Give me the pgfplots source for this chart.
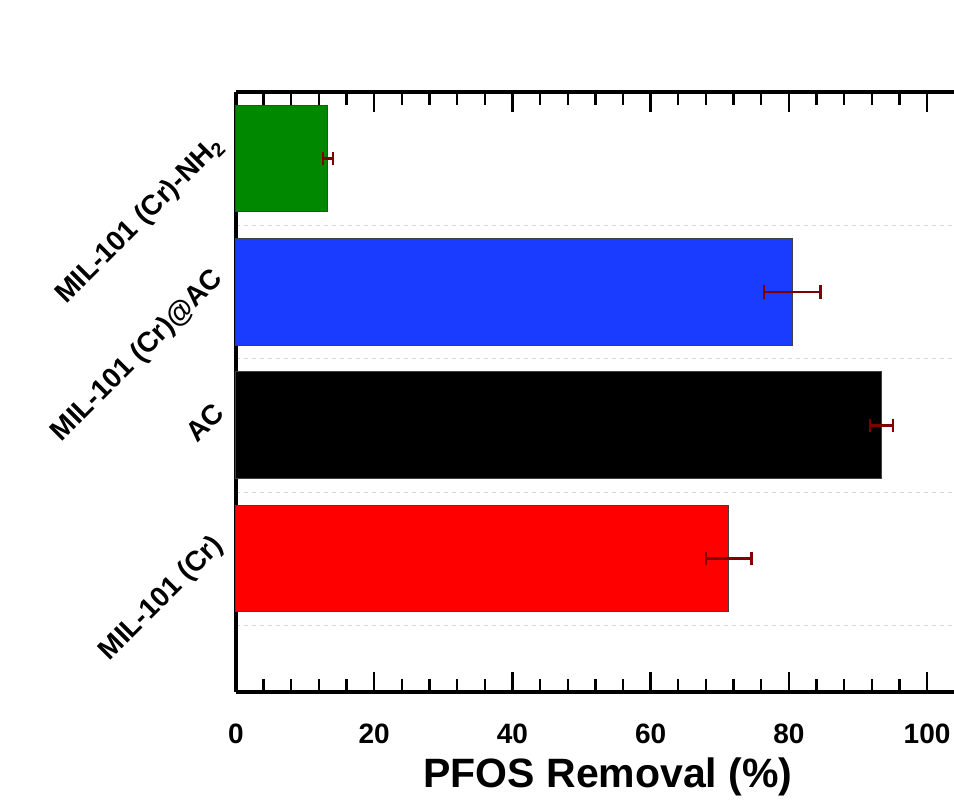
\documentclass[border=0pt]{standalone}
\usepackage{fontspec}
\setmainfont{Liberation Sans}
\usepackage{pgfplots}
\pgfplotsset{compat=1.18}
\definecolor{bargreen}{RGB}{0,136,0}
\definecolor{barblue}{RGB}{26,60,255}
\definecolor{errred}{RGB}{128,0,0}
\definecolor{gridgray}{RGB}{215,215,215}
\pgfplotsset{
  errstyle/.style={error bars/.cd, x dir=both, x explicit, error mark=|,
    error bar style={errred, line width=1.2pt},
    error mark options={errred, line width=1.2pt, mark size=3.3pt}},
}
\begin{document}
\begin{tikzpicture}
\useasboundingbox (-118pt,-55pt) rectangle (359pt,346pt);
\begin{axis}[
  at={(0pt,0pt)}, anchor=south west,
  scale only axis, width=359pt, height=300pt,
  xmin=0, xmax=103.9, ymin=0, ymax=4.5,
  axis x line*=box, axis y line*=left,
  axis line style={line width=1.8pt},
  tick align=inside,
  xtick={0,20,40,60,80,100},
  minor x tick num=4,
  major tick length=10pt, minor tick length=6.5pt,
  every tick/.style={line width=1.2pt, black},
  xtick pos=both,
  ytick={1,2,3,4},
  yticklabels={MIL-101 (Cr), AC, MIL-101 (Cr)@AC, MIL-101 (Cr)-NH\textsubscript{2}},
  minor ytick={0.5,1.5,2.5,3.5},
  y tick style={draw=none},
  yminorgrids=true, ymajorgrids=false, xmajorgrids=false,
  minor grid style={gridgray, dash pattern=on 2pt off 2pt, line width=0.4pt},
  /pgf/number format/assume math mode=true,
  xticklabel style={font=\bfseries\fontsize{14}{14}\selectfont, yshift=-12.5pt},
  yticklabel style={font=\bfseries\fontsize{14}{14}\selectfont, xshift=-6pt, yshift=11pt, rotate=45, anchor=east},
  xlabel={PFOS Removal (\%)},
  xlabel style={font=\bfseries\fontsize{20.5}{20.5}\selectfont, yshift=0pt, xshift=6.5pt},
  clip=false,
]
\addplot[xbar, bar width=0.8, bar shift=0pt, fill=red, draw=black!75, line width=0.5pt, errstyle]
  coordinates {(71.3,1) +- (3.3,0)};
\addplot[xbar, bar width=0.8, bar shift=0pt, fill=black, draw=black!75, line width=0.5pt, errstyle]
  coordinates {(93.4,2) +- (1.65,0)};
\addplot[xbar, bar width=0.8, bar shift=0pt, fill=barblue, draw=black!75, line width=0.5pt, errstyle]
  coordinates {(80.5,3) +- (4.1,0)};
\addplot[xbar, bar width=0.8, bar shift=0pt, fill=bargreen, draw=black!75, line width=0.5pt, errstyle]
  coordinates {(13.3,4) +- (0.7,0)};
\end{axis}
\end{tikzpicture}
\end{document}
